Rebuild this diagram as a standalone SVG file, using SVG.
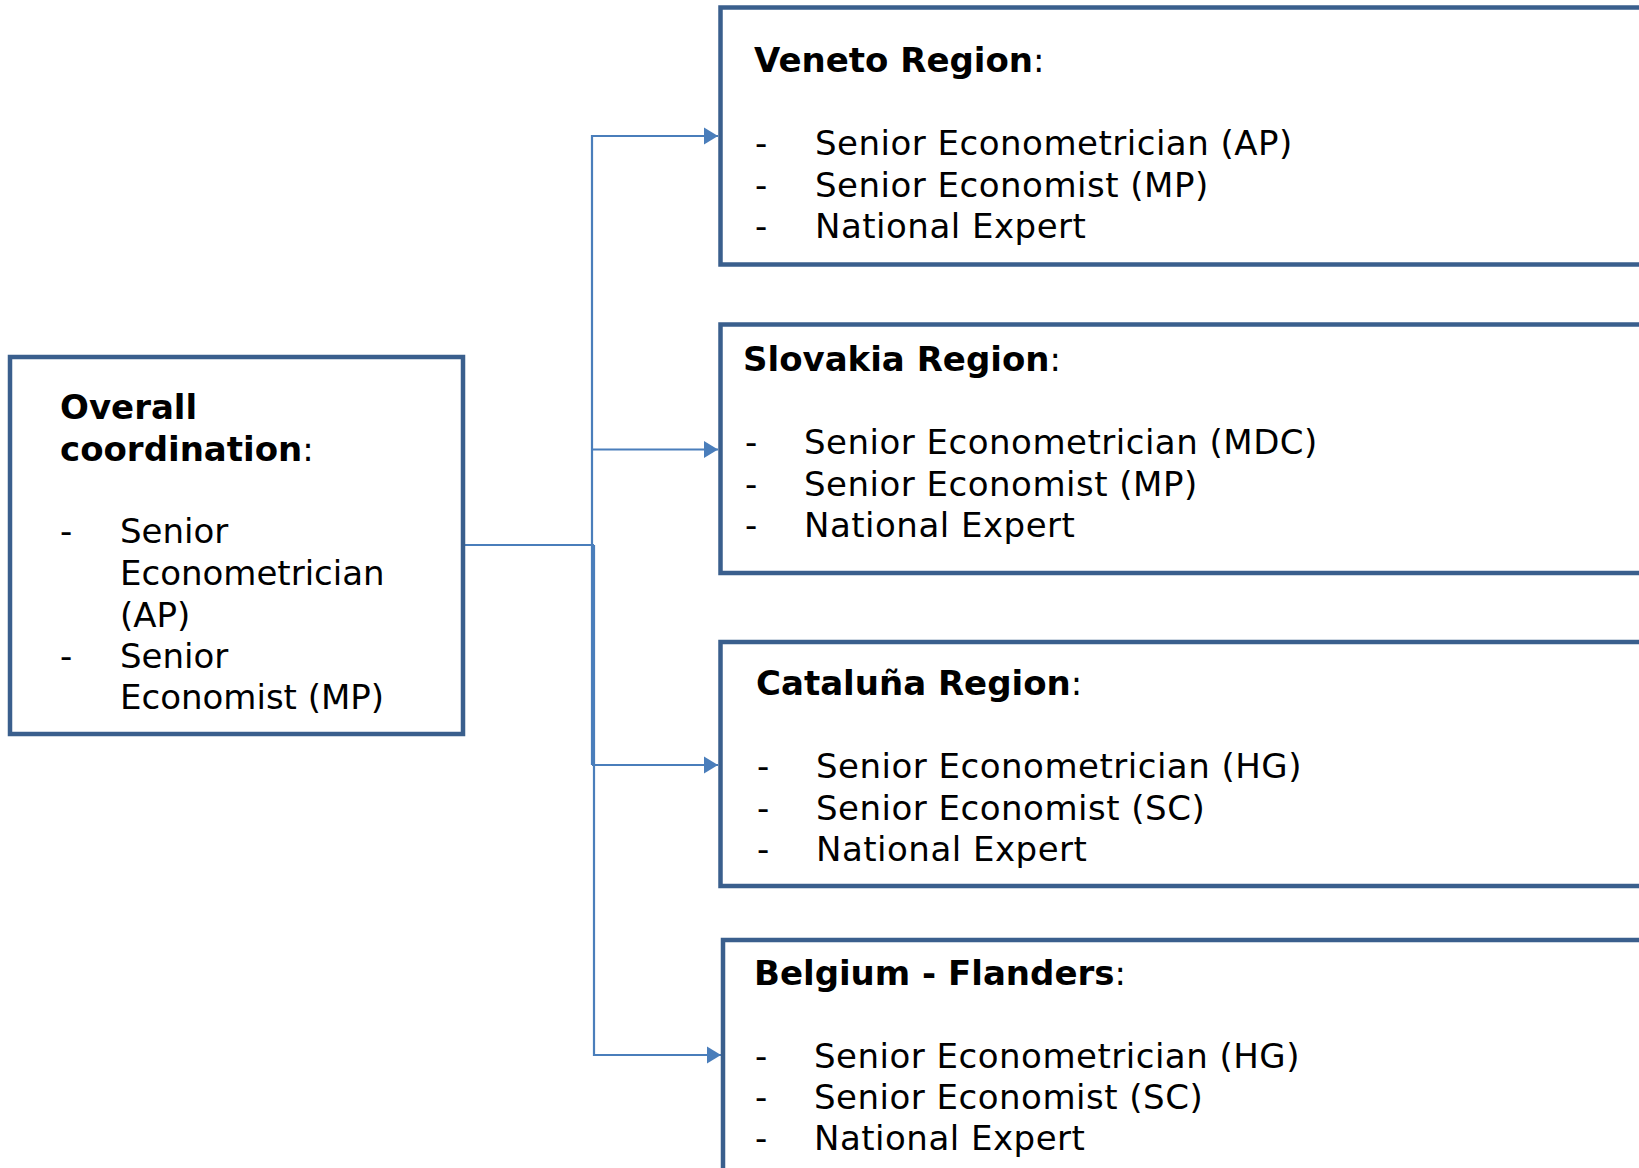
<svg xmlns="http://www.w3.org/2000/svg" width="1639" height="1168" viewBox="0 0 1639 1168">
<style>
.box{fill:#fff;stroke:#3A5F8D;stroke-width:4.5}
.t{font-family:"DejaVu Sans",Verdana,sans-serif;font-size:34px;fill:#000}
.r{letter-spacing:0.5px}
.b{font-weight:bold}
.c{fill:none;stroke:#4A7EBB;stroke-width:2.2}
</style>
<defs>
<marker id="ah" markerUnits="userSpaceOnUse" markerWidth="16" markerHeight="18" refX="14" refY="9" orient="auto">
<path d="M0,0.5 L14,9 L0,17.5 Z" fill="#4A7EBB"/>
</marker>
</defs>
<rect width="1639" height="1168" fill="#fff"/>
<g id="connectors">
<path class="c" d="M464,545 H594"/>
<path class="c" d="M592,765 V136 H718" marker-end="url(#ah)"/>
<path class="c" d="M592,449.5 H718" marker-end="url(#ah)"/>
<path class="c" d="M592,765 H718" marker-end="url(#ah)"/>
<path class="c" d="M594,545 V1055 H721" marker-end="url(#ah)"/>
</g>
<g id="overall">
<rect class="box" x="10" y="357" width="453" height="377"/>
<text class="t" x="60" y="419"><tspan class="b">Overall</tspan></text>
<text class="t" x="60" y="461"><tspan class="b">coordination</tspan>:</text>
<text class="t" x="60" y="543">-</text>
<text class="t" x="120" y="543">Senior</text>
<text class="t" x="120" y="585">Econometrician</text>
<text class="t" x="120" y="627">(AP)</text>
<text class="t" x="60" y="668">-</text>
<text class="t" x="120" y="668">Senior</text>
<text class="t" x="120" y="709">Economist (MP)</text>
</g>
<g id="veneto">
<rect class="box" x="720.5" y="7.5" width="940" height="257"/>
<text class="t" x="754" y="72"><tspan class="b">Veneto Region</tspan>:</text>
<text class="t" x="755" y="155">-</text>
<text class="t r" x="815" y="155">Senior Econometrician (AP)</text>
<text class="t" x="755" y="196.5">-</text>
<text class="t r" x="815" y="196.5">Senior Economist (MP)</text>
<text class="t" x="755" y="238">-</text>
<text class="t r" x="815" y="238">National Expert</text>
</g>
<g id="slovakia">
<rect class="box" x="720.5" y="324.5" width="940" height="248.5"/>
<text class="t" x="743" y="371"><tspan class="b">Slovakia Region</tspan>:</text>
<text class="t" x="745" y="454">-</text>
<text class="t r" x="804" y="454">Senior Econometrician (MDC)</text>
<text class="t" x="745" y="495.5">-</text>
<text class="t r" x="804" y="495.5">Senior Economist (MP)</text>
<text class="t" x="745" y="537">-</text>
<text class="t r" x="804" y="537">National Expert</text>
</g>
<g id="cataluna">
<rect class="box" x="720.5" y="642" width="940" height="244"/>
<text class="t" x="756" y="695"><tspan class="b">Cataluña Region</tspan>:</text>
<text class="t" x="757" y="778">-</text>
<text class="t r" x="816" y="778">Senior Econometrician (HG)</text>
<text class="t" x="757" y="819.5">-</text>
<text class="t r" x="816" y="819.5">Senior Economist (SC)</text>
<text class="t" x="757" y="861">-</text>
<text class="t r" x="816" y="861">National Expert</text>
</g>
<g id="belgium">
<rect class="box" x="723" y="940" width="940" height="240"/>
<text class="t" x="754" y="985"><tspan class="b">Belgium - Flanders</tspan>:</text>
<text class="t" x="755" y="1068">-</text>
<text class="t r" x="814" y="1068">Senior Econometrician (HG)</text>
<text class="t" x="755" y="1109">-</text>
<text class="t r" x="814" y="1109">Senior Economist (SC)</text>
<text class="t" x="755" y="1150">-</text>
<text class="t r" x="814" y="1150">National Expert</text>
</g>
</svg>
